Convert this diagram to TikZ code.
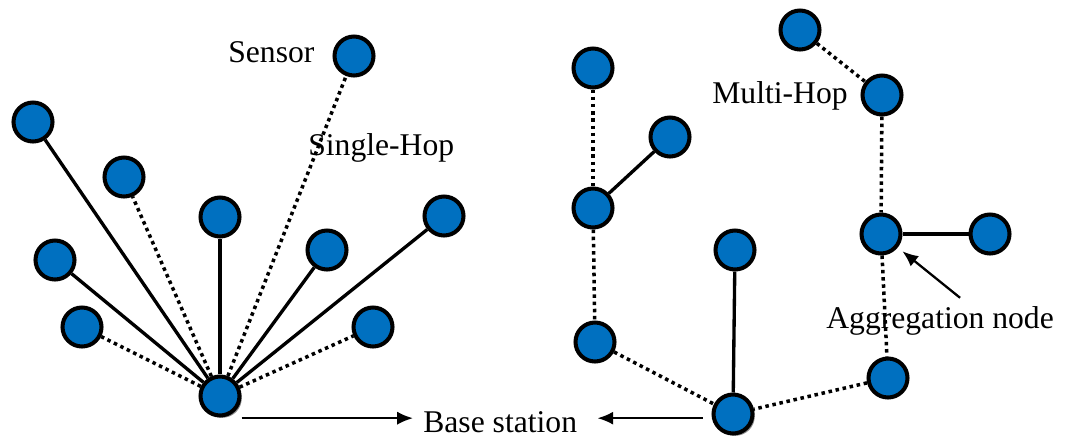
\documentclass[tikz,border=0pt]{standalone}
\usepackage{fontspec}
\setmainfont{Liberation Serif}
\usetikzlibrary{arrows.meta,shadows}
\definecolor{moteblue}{HTML}{0070C0}

\begin{document}
\begin{tikzpicture}[x=0.02cm, y=-0.02cm,
  mote/.style={circle, draw, fill=moteblue, line width=2.3pt, minimum size=0.78cm, inner sep=0pt},
  sink/.style={mote, drop shadow={shadow xshift=1.3pt, shadow yshift=-1.3pt, fill=black!45, opacity=1}},
  link/.style={line width=1.9pt},
  hop/.style={line width=2pt, dash pattern=on 2pt off 2.1pt},
  arrow/.style={line width=1.3pt, -{Latex[length=9pt,width=7.5pt]}},
  lbl/.style={font=\fontsize{18}{21}\selectfont, inner sep=0pt, anchor=base west}]
  \useasboundingbox (0,0) rectangle (1067,440);

  % Single-hop nodes
  \node[sink] (bs1) at (220,396) {};
  \node[mote] (s0) at (354,56) {};
  \node[mote] (s1) at (33,122) {};
  \node[mote] (s2) at (124,177) {};
  \node[mote] (s3) at (220,217) {};
  \node[mote] (s4) at (55,260) {};
  \node[mote] (s5) at (82,327) {};
  \node[mote] (s6) at (327,250) {};
  \node[mote] (s7) at (444,216) {};
  \node[mote] (s8) at (373,327) {};

  % Multi-hop nodes
  \node[sink] (bs2) at (733,414) {};
  \node[mote] (r1) at (593,68) {};
  \node[mote] (r2) at (670,137) {};
  \node[mote] (r3) at (593,208) {};
  \node[mote] (r4) at (595,342) {};
  \node[mote] (r5) at (735,250) {};
  \node[mote] (m1) at (800,30) {};
  \node[mote] (m2) at (882,95) {};
  \node[mote] (m3) at (881,234) {};
  \node[mote] (m4) at (990,234) {};
  \node[mote] (m5) at (888,378) {};

  % Labels
  \node[lbl] (sensor) at (228,62) {Sensor};
  \node[lbl] (single) at (308,155) {Single-Hop};
  \node[lbl] (multi) at (712,103) {Multi-Hop};
  \node[lbl] (agg) at (826,328) {Aggregation node};
  \node[lbl] (bslbl) at (423,432) {Base station};

  % Links
  \foreach \s in {s1,s3,s4,s6,s7}
    \draw[link] (bs1) -- (\s);
  \foreach \s in {s0,s2,s5,s8}
    \draw[hop] (bs1) -- (\s);
  \draw[hop] (r1) -- (r3);
  \draw[link] (r3) -- (r2);
  \draw[hop] (r3) -- (r4);
  \draw[hop] (r4) -- (bs2);
  \draw[link] (r5) -- (bs2);
  \draw[hop] (m1) -- (m2);
  \draw[hop] (m2) -- (m3);
  \draw[link] (m3) -- (m4);
  \draw[hop] (m3) -- (m5);
  \draw[hop] (m5) -- (bs2);

  % Arrows
  \draw[arrow] ([yshift=2pt]bs1.east |- bslbl.west) -- ([xshift=-0.2cm, yshift=2pt]bslbl.west);
  \draw[arrow, shorten <=5pt] ([yshift=2pt]bs2.west |- bslbl.east) -- ([xshift=0.4cm, yshift=2pt]bslbl.east);
  \draw[arrow, shorten >=3.4pt] ([xshift=0.4cm, yshift=4.5pt]agg.north) -- (m3);
\end{tikzpicture}
\end{document}
